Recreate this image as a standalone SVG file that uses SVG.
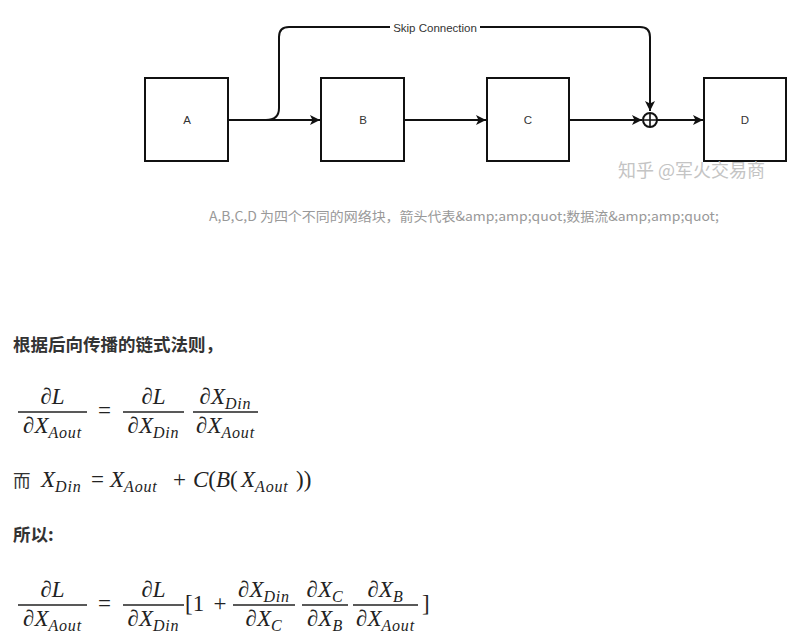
<svg xmlns="http://www.w3.org/2000/svg" width="792" height="641" viewBox="0 0 792 641">
<style>
.box{fill:#fff;stroke:#111;stroke-width:2}
.lbl{font-family:"Liberation Sans",Arial,sans-serif;font-size:11.5px;fill:#333;text-anchor:middle}
.edge{fill:none;stroke:#111;stroke-width:2}
.m{font-family:"Liberation Serif","DejaVu Serif",serif;font-size:23px;fill:#222}
.i{font-style:italic}
.s{font-size:16px;font-style:italic;letter-spacing:0.8px}
.c{text-anchor:middle}
.bar{stroke:#222;stroke-width:1.3}
.cjk{font-family:"Noto Sans CJK SC","Noto Sans",sans-serif}
</style>
<defs>
<marker id="arr" viewBox="0 0 10 10" refX="10" refY="5" markerWidth="10" markerHeight="10" markerUnits="userSpaceOnUse" orient="auto">
<path d="M0,0 L10,5 L0,10 L2.5,5 Z" fill="#111"/>
</marker>
</defs>
<rect width="792" height="641" fill="#fff"/>

<g id="connectors">
<path class="edge" d="M228,120 L320,120" marker-end="url(#arr)"/>
<path class="edge" d="M404,120 L486,120" marker-end="url(#arr)"/>
<path class="edge" d="M569,120 L642,120" marker-end="url(#arr)"/>
<path class="edge" d="M657,120 L703,120" marker-end="url(#arr)"/>
<path class="edge" d="M266,120 Q279,120 279,108 L279,37 Q279,27 289,27 L640,27 Q650,27 650,37 L650,111" marker-end="url(#arr)"/>
<rect x="390" y="20" width="90" height="14" fill="#fff"/>
<text x="435" y="31.5" class="lbl" style="font-size:11.5px">Skip Connection</text>
</g>

<g id="node-A"><rect class="box" x="145" y="78" width="83" height="83"/><text class="lbl" x="187" y="124">A</text></g>
<g id="node-B"><rect class="box" x="321" y="78" width="83" height="83"/><text class="lbl" x="363" y="124">B</text></g>
<g id="node-C"><rect class="box" x="487" y="78" width="82" height="83"/><text class="lbl" x="528" y="124">C</text></g>
<g id="node-D"><rect class="box" x="704" y="78" width="82" height="83"/><text class="lbl" x="745" y="124">D</text></g>
<g id="node-sum">
<circle cx="650" cy="120" r="7" fill="#fff" stroke="#111" stroke-width="2"/>
<path d="M643,120 L657,120 M650,113 L650,127" stroke="#111" stroke-width="1.6"/>
</g>

<text x="618" y="177" class="cjk" style="font-size:18px;fill:#c4c4c4">知乎 @军火交易商</text>
<text x="209" y="221" class="cjk" style="font-size:13px;fill:#999" textLength="510" lengthAdjust="spacingAndGlyphs">A,B,C,D 为四个不同的网络块，箭头代表&amp;amp;amp;quot;数据流&amp;amp;amp;quot;</text>

<text x="13" y="351" class="cjk" style="font-size:17.5px;font-weight:bold;fill:#333">根据后向传播的链式法则，</text>

<!-- formula 1 -->
<g id="formula1">
<text class="m c" x="52.5" y="404">∂<tspan class="i">L</tspan></text>
<line class="bar" x1="18" y1="412" x2="87" y2="412"/>
<text class="m c" x="52.5" y="433">∂<tspan class="i">X</tspan><tspan class="s" dy="5">Aout</tspan></text>
<text class="m c" x="104.5" y="418">=</text>
<text class="m c" x="153.5" y="404">∂<tspan class="i">L</tspan></text>
<line class="bar" x1="123" y1="412" x2="184" y2="412"/>
<text class="m c" x="153.5" y="433">∂<tspan class="i">X</tspan><tspan class="s" dy="5">Din</tspan></text>
<text class="m c" x="225.5" y="404">∂<tspan class="i">X</tspan><tspan class="s" dy="5">Din</tspan></text>
<line class="bar" x1="193" y1="412" x2="258" y2="412"/>
<text class="m c" x="225.5" y="433">∂<tspan class="i">X</tspan><tspan class="s" dy="5">Aout</tspan></text>
</g>

<!-- formula 2 -->
<g id="formula2">
<text x="13" y="487" class="cjk" style="font-size:17.5px;fill:#333">而</text>
<text class="m" x="41" y="487"><tspan class="i">X</tspan><tspan class="s" dy="5">Din</tspan></text>
<text class="m" x="91" y="487">=</text>
<text class="m" x="110" y="487"><tspan class="i">X</tspan><tspan class="s" dy="5">Aout</tspan></text>
<text class="m" x="173" y="487">+</text>
<text class="m" x="193" y="487"><tspan class="i">C</tspan>(<tspan x="216" class="i">B</tspan>(</text>
<text class="m" x="241" y="487"><tspan class="i">X</tspan><tspan class="s" dy="5">Aout</tspan></text>
<text class="m" x="296" y="487">))</text>
</g>

<text x="13" y="541" class="cjk" style="font-size:17.5px;font-weight:bold;fill:#333">所以:</text>

<!-- formula 3 -->
<g id="formula3">
<text class="m c" x="52.5" y="597">∂<tspan class="i">L</tspan></text>
<line class="bar" x1="18" y1="605" x2="87" y2="605"/>
<text class="m c" x="52.5" y="626">∂<tspan class="i">X</tspan><tspan class="s" dy="5">Aout</tspan></text>
<text class="m c" x="104.5" y="611">=</text>
<text class="m c" x="153.5" y="597">∂<tspan class="i">L</tspan></text>
<line class="bar" x1="123" y1="605" x2="184" y2="605"/>
<text class="m c" x="153.5" y="626">∂<tspan class="i">X</tspan><tspan class="s" dy="5">Din</tspan></text>
<text class="m" x="185" y="611">[1</text>
<text class="m c" x="220" y="611">+</text>
<text class="m c" x="264" y="597">∂<tspan class="i">X</tspan><tspan class="s" dy="5">Din</tspan></text>
<line class="bar" x1="233" y1="605" x2="295" y2="605"/>
<text class="m c" x="264" y="626">∂<tspan class="i">X</tspan><tspan class="s" dy="5">C</tspan></text>
<text class="m c" x="325" y="597">∂<tspan class="i">X</tspan><tspan class="s" dy="5">C</tspan></text>
<line class="bar" x1="302" y1="605" x2="348" y2="605"/>
<text class="m c" x="325" y="626">∂<tspan class="i">X</tspan><tspan class="s" dy="5">B</tspan></text>
<text class="m c" x="385.5" y="597">∂<tspan class="i">X</tspan><tspan class="s" dy="5">B</tspan></text>
<line class="bar" x1="353" y1="605" x2="418" y2="605"/>
<text class="m c" x="385.5" y="626">∂<tspan class="i">X</tspan><tspan class="s" dy="5">Aout</tspan></text>
<text class="m" x="422" y="611">]</text>
</g>
</svg>
